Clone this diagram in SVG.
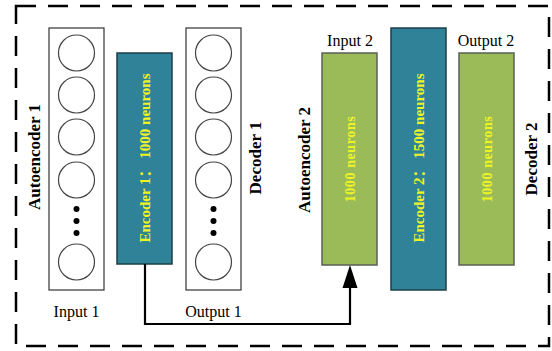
<svg xmlns="http://www.w3.org/2000/svg" width="552" height="351" viewBox="0 0 552 351">
  <defs>
    <style>
      .frame { fill: none; stroke: #000; stroke-width: 2.5; stroke-dasharray: 20 12; }
      .layer { fill: #fff; stroke: #333; stroke-width: 1.2; }
      .neuron { fill: #fff; stroke: #444; stroke-width: 1.2; }
      .dot { fill: #000; }
      .enc { fill: #2f8297; stroke: #1c3f48; stroke-width: 1.5; }
      .dense { fill: #9bbb59; stroke: #5a5f55; stroke-width: 1.5; }
      .title { font-family: "Liberation Serif", "Times New Roman", serif; font-weight: bold; font-size: 17px; fill: #000; text-anchor: middle; }
      .label { font-family: "Liberation Serif", "Times New Roman", serif; font-size: 16px; fill: #000; text-anchor: middle; }
      .inner { font-family: "Liberation Serif", "Noto Sans CJK SC", serif; font-weight: bold; font-size: 15px; fill: #eef424; text-anchor: middle; }
      .count { font-family: "Liberation Serif", serif; font-weight: bold; font-size: 14px; letter-spacing: 0.6px; fill: #eef424; text-anchor: middle; }
      .link { fill: none; stroke: #000; stroke-width: 2.2; }
    </style>
    <g id="neuron-column">
      <circle class="neuron" cx="0" cy="53" r="18"/>
      <circle class="neuron" cx="0" cy="95" r="18"/>
      <circle class="neuron" cx="0" cy="137" r="18"/>
      <circle class="neuron" cx="0" cy="180" r="18"/>
      <circle class="dot" cx="0" cy="209" r="3"/>
      <circle class="dot" cx="0" cy="221" r="3"/>
      <circle class="dot" cx="0" cy="233" r="3"/>
      <circle class="neuron" cx="0" cy="262" r="18"/>
    </g>
  </defs>

  <!-- outer dashed frame -->
  <rect class="frame" x="16" y="6" width="533" height="340"/>

  <!-- first autoencoder -->
  <g id="autoencoder1-title">
    <text class="title" transform="translate(39.5,157) rotate(-90)">Autoencoder 1</text>
  </g>
  <g id="input1">
    <rect class="layer" x="49" y="28" width="55" height="262"/>
    <use href="#neuron-column" x="76.5" y="0"/>
    <text class="label" x="76.5" y="317">Input 1</text>
  </g>
  <g id="encoder1">
    <rect class="enc" x="117" y="53" width="55" height="211"/>
    <text class="inner" transform="translate(150,158) rotate(-90)">Encoder 1： 1000 neurons</text>
  </g>
  <g id="output1">
    <rect class="layer" x="186" y="28" width="55" height="262"/>
    <use href="#neuron-column" x="213.5" y="0"/>
    <text class="label" x="213.5" y="317">Output 1</text>
  </g>
  <g id="decoder1-title">
    <text class="title" transform="translate(261,158) rotate(-90)">Decoder 1</text>
  </g>

  <!-- second autoencoder -->
  <g id="autoencoder2-title">
    <text class="title" transform="translate(310,160) rotate(-90)">Autoencoder 2</text>
  </g>
  <g id="input2">
    <rect class="dense" x="322" y="53" width="55" height="212"/>
    <text class="count" transform="translate(355,159) rotate(-90)">1000 neurons</text>
    <text class="label" x="350" y="46">Input 2</text>
  </g>
  <g id="encoder2">
    <rect class="enc" x="391" y="28" width="55" height="262"/>
    <text class="inner" transform="translate(424,158) rotate(-90)">Encoder 2： 1500 neurons</text>
  </g>
  <g id="output2">
    <rect class="dense" x="459" y="53" width="55" height="212"/>
    <text class="count" transform="translate(491.5,159) rotate(-90)">1000 neurons</text>
    <text class="label" x="486" y="46">Output 2</text>
  </g>
  <g id="decoder2-title">
    <text class="title" transform="translate(537,159) rotate(-90)">Decoder 2</text>
  </g>

  <!-- connector: encoder 1 code feeds input 2 -->
  <g id="connectors">
    <path class="link" d="M145,264 V324 H350 V287"/>
    <polygon points="350,265 342.5,288 357.5,288" fill="#000"/>
  </g>
</svg>
